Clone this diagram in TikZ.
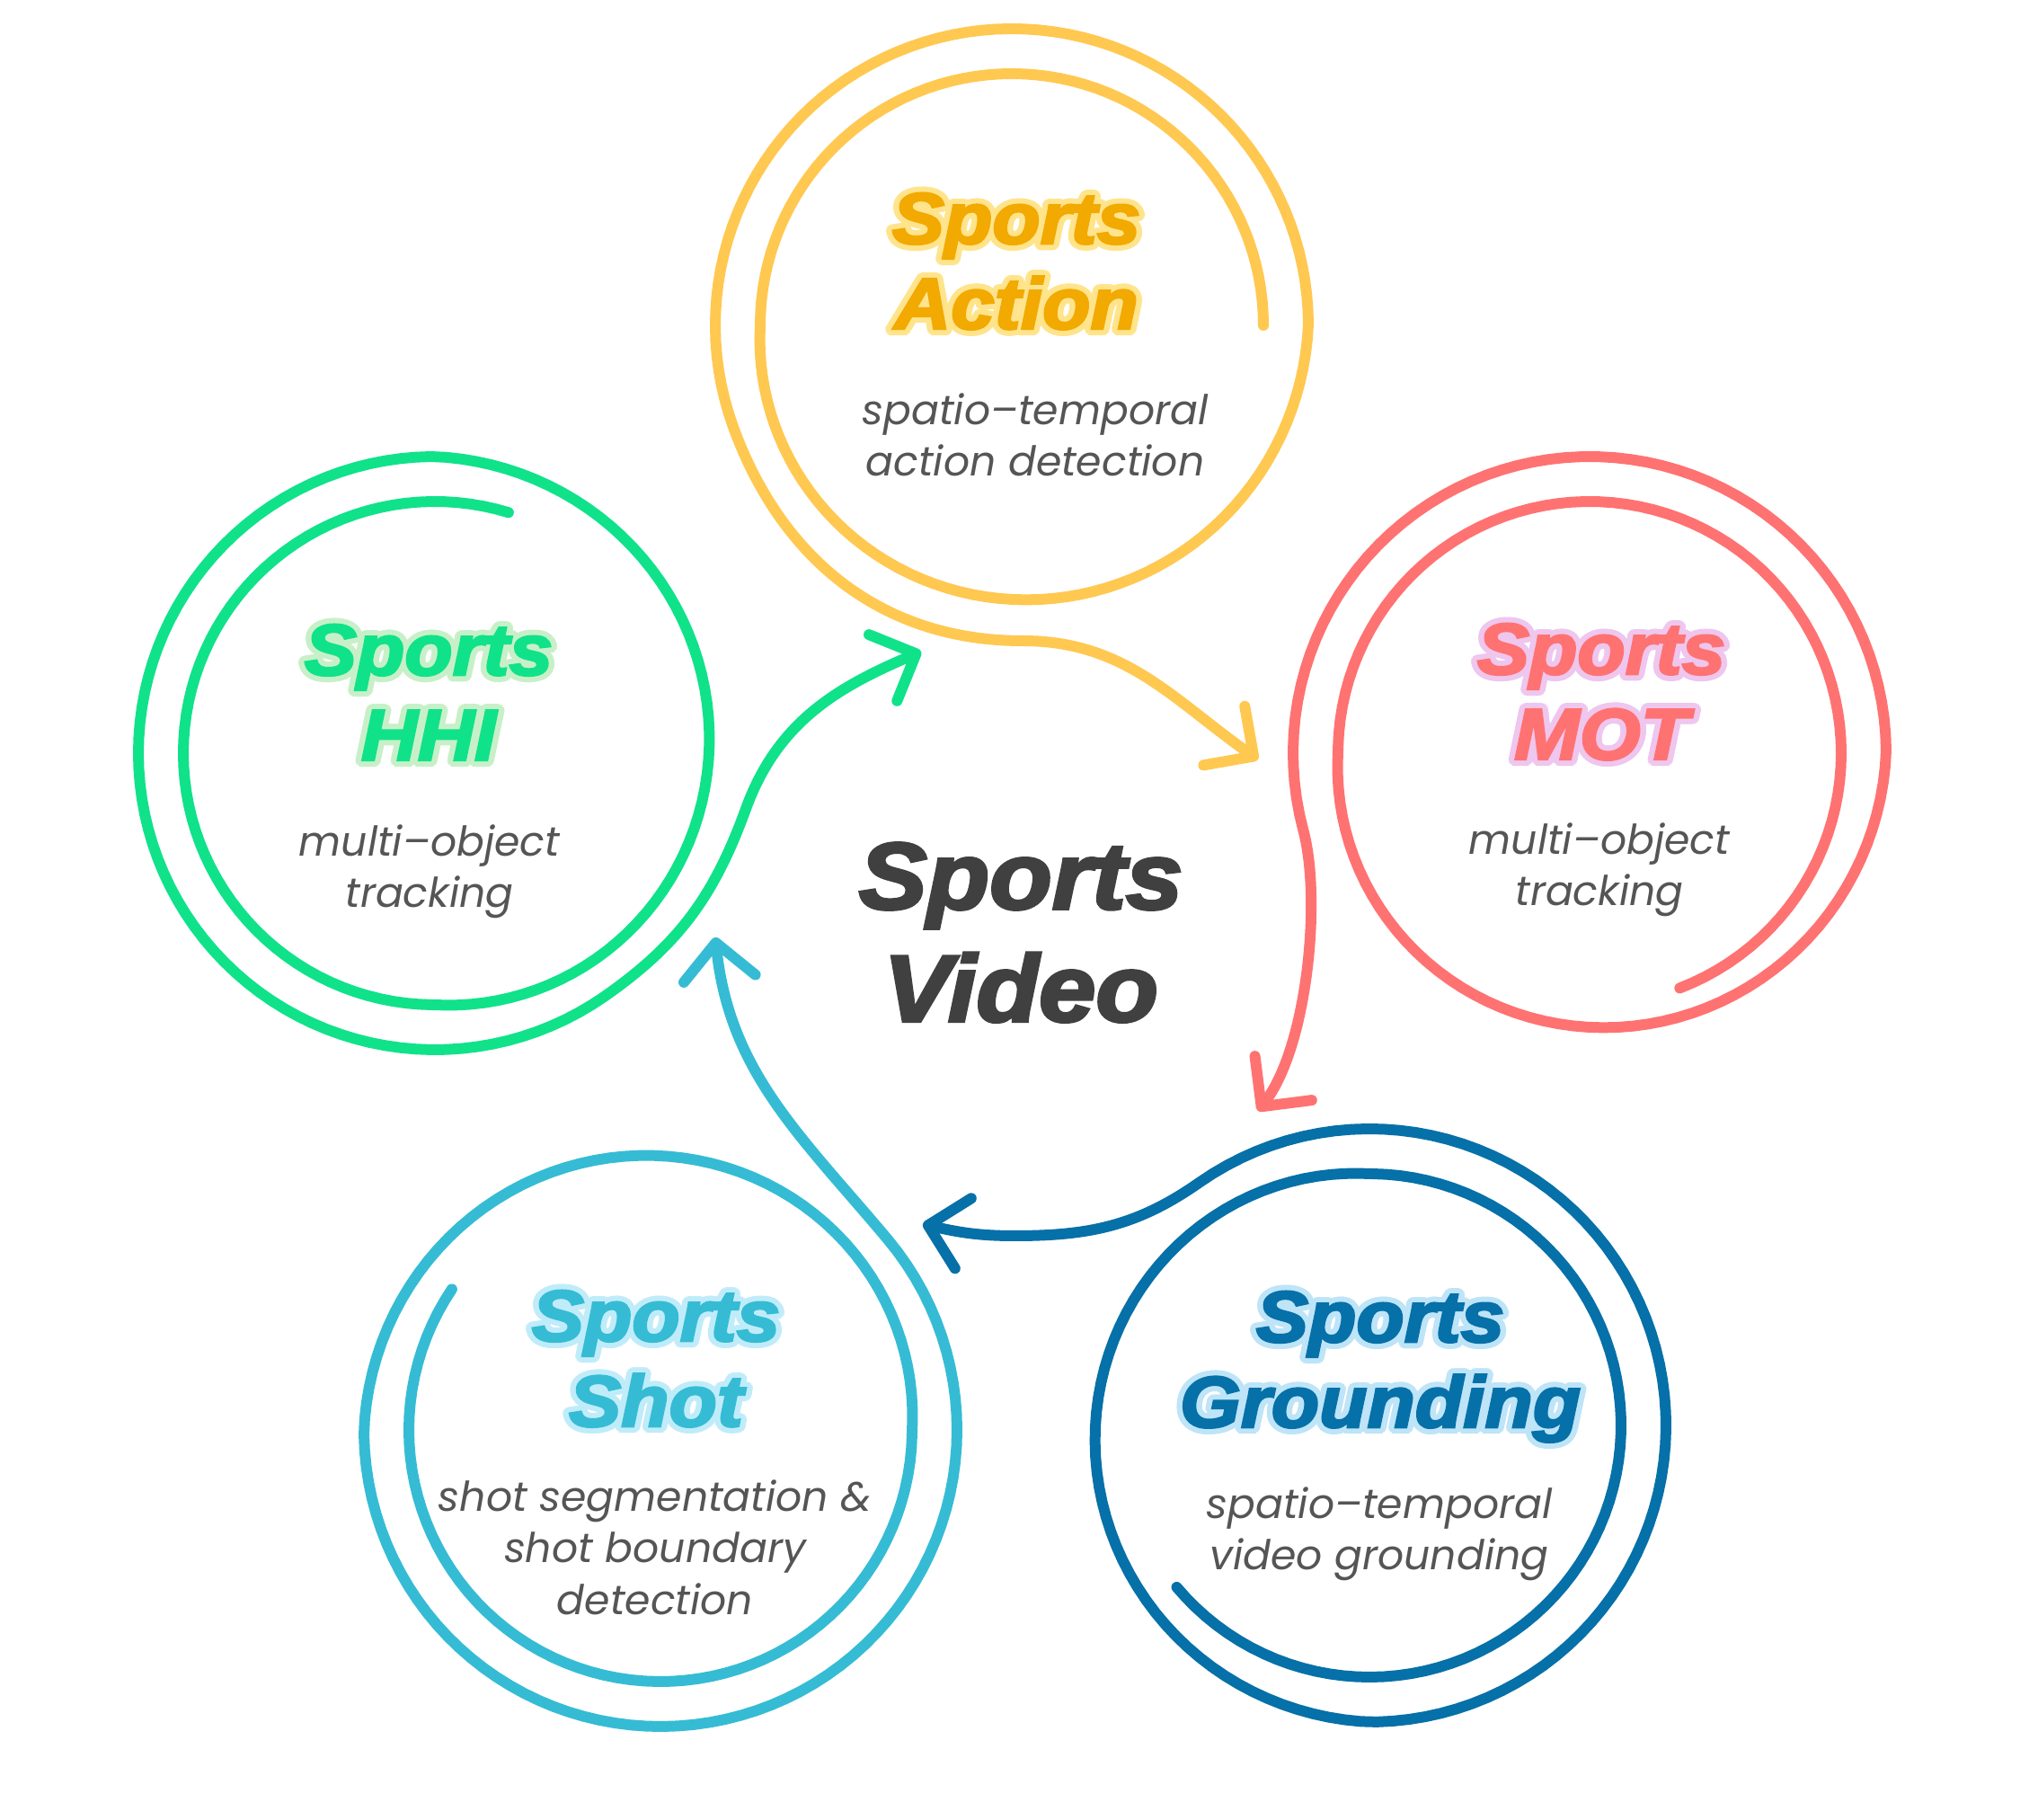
\documentclass[tikz,border=0pt]{standalone}
\usepackage{fontspec}
\usepackage{contour}
\usetikzlibrary{arrows.meta}
\newfontfamily\headfont{Liberation Sans}[BoldItalicFeatures={FakeBold=3}]
\newfontfamily\descfont{Poppins}
\contourlength{1.7pt}
\definecolor{actring}{RGB}{255,200,80}
\definecolor{acttext}{RGB}{242,169,0}
\definecolor{actglow}{RGB}{255,228,140}
\definecolor{hhiring}{RGB}{16,226,138}
\definecolor{hhiglow}{RGB}{200,240,200}
\definecolor{motring}{RGB}{255,114,114}
\definecolor{motglow}{RGB}{238,198,238}
\definecolor{gndring}{RGB}{6,112,168}
\definecolor{gndglow}{RGB}{190,228,248}
\definecolor{shotring}{RGB}{53,188,212}
\definecolor{shotglow}{RGB}{192,236,250}
\definecolor{descgray}{RGB}{85,85,85}
\definecolor{videogray}{RGB}{64,64,64}

\begin{document}
\begin{tikzpicture}[
  declare function={spr(\a,\g)=2.8+0.5*min(max((\a-\g)/180,0),1);},
  ring/.style={line width=0.12cm,line cap=round},
  flow/.style={ring,-{Straight Barb[length=4mm,width=8mm,round]}},
  title/.style={font=\headfont\bfseries\itshape\fontsize{23}{27}\selectfont,
    align=center,inner sep=0pt,anchor=north,xscale=1.08},
  desc/.style={font=\descfont\itshape\fontsize{13}{16.3}\selectfont,
    text=descgray,align=center,inner sep=0pt,anchor=north}]
\fill[white] (0,0) rectangle (22.58,20.24);

\coordinate (mot-in) at (14.00,11.79);
\coordinate (gnd-in) at (14.00,7.88);
\coordinate (shot-in) at (10.27,6.62);
\coordinate (hhi-in) at (7.96,9.81);
\coordinate (act-in) at (10.25,12.99);

% Sports Action
\draw[flow,actring] plot[domain=0:560,samples=200,variable=\t]
    ({11.26+spr(\t,180)*cos(\t)},{16.62+spr(\t,180)*sin(\t)})
    to[out=290,in=180] (11.38,13.11) to[out=0,in=145] (mot-in);
% Sports MOT
\draw[flow,motring] plot[domain=-69:555,samples=200,variable=\t]
    ({17.69+spr(\t,180)*cos(\t)},{11.86+spr(\t,180)*sin(\t)})
    .. controls (14.71,10.24) and (14.55,8.59) .. (gnd-in);
% Sports Grounding
\draw[flow,gndring] plot[domain=220:845,samples=200,variable=\t]
    ({15.24+spr(\t,450)*cos(\t)},{4.38+spr(\t,450)*sin(\t)})
    to[out=215,in=0] (11.29,6.49) to[out=180,in=-13] (shot-in);
% Sports Shot
\draw[flow,shotring] plot[domain=146:760,samples=200,variable=\t]
    ({7.35+spr(\t,360)*cos(\t)},{4.33+spr(\t,360)*sin(\t)})
    to[out=130,in=-84] (hhi-in);
% Sports HHI
\draw[flow,hhiring] plot[domain=73:665,samples=200,variable=\t]
    ({4.84+spr(\t,270)*cos(\t)},{11.86+spr(\t,270)*sin(\t)})
    to[out=35,in=250] (8.30,11.24) to[out=70,in=203] (act-in);

\node[title,text=acttext] (act) at (11.31,18.10)
    {\contour{actglow}{Sports}\\\contour{actglow}{Action}};
\node[desc] (act-d) at (11.52,15.87) {spatio–temporal\\action detection};
\node[title,text=motring] (mot) at (17.82,13.31)
    {\contour{motglow}{Sports}\\\contour{motglow}{MOT}};
\node[desc] (mot-d) at (17.80,11.09) {multi–object\\tracking};
\node[title,text=gndring] (gnd) at (15.36,5.88)
    {\contour{gndglow}{Sports}\\\contour{gndglow}{Grounding}};
\node[desc] (gnd-d) at (15.35,3.70) {spatio–temporal\\video grounding};
\node[title,text=shotring] (shot) at (7.30,5.89)
    {\contour{shotglow}{Sports}\\\contour{shotglow}{Shot}};
\node[desc] (shot-d) at (7.29,3.78) {shot segmentation \&\\shot boundary\\detection};
\node[title,text=hhiring] (hhi) at (4.77,13.30)
    {\contour{hhiglow}{Sports}\\\contour{hhiglow}{HHI}};
\node[desc] (hhi-d) at (4.78,11.07) {multi–object\\tracking};

\node[title,font=\headfont\bfseries\itshape\fontsize{30}{35.6}\selectfont,text=videogray]
    (video) at (11.36,10.87) {Sports\\Video};
\end{tikzpicture}
\end{document}
